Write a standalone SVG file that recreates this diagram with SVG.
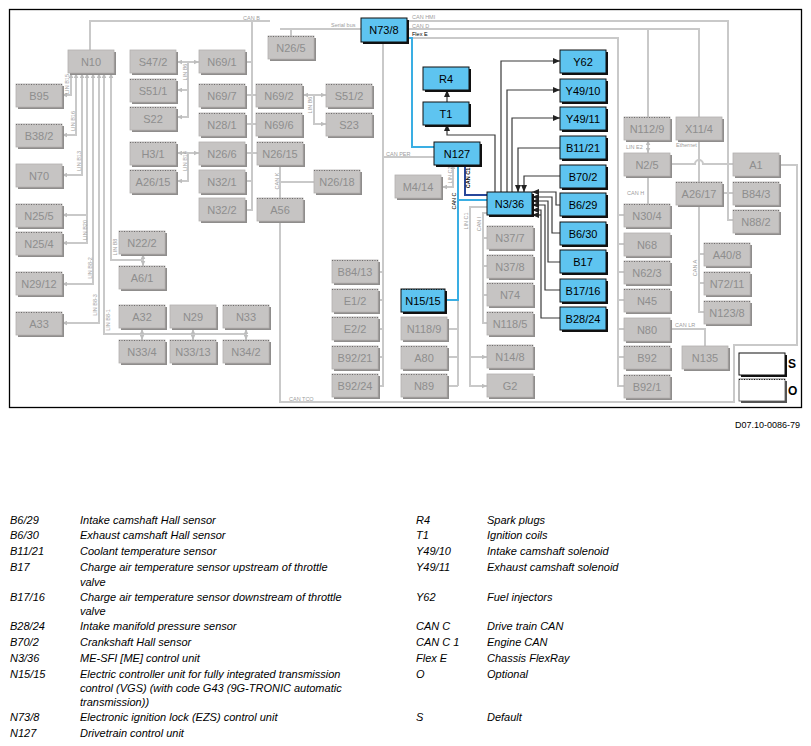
<svg xmlns="http://www.w3.org/2000/svg" width="811" height="746" viewBox="0 0 811 746">
<style>
.sh{fill:#8f8d8c}
.bx{fill:#c6c4c3;stroke:#b3b1b0;stroke-width:.8}
.dot{fill:none;stroke:#6f6d6c;stroke-width:1;stroke-dasharray:1 1.5}
.gt{font-family:"Liberation Sans",Arial,sans-serif;font-size:11px;fill:#8e8e8e;text-anchor:middle}
.bsh{fill:#111}
.bbx{fill:#5ec4f0;stroke:#111;stroke-width:1}
.bt{font-family:"Liberation Sans",Arial,sans-serif;font-size:11px;fill:#000;text-anchor:middle}
.w{fill:none;stroke:#c9c9c9;stroke-width:2}
.k{fill:none;stroke:#3a3a3a;stroke-width:1.2}
.cy{fill:none;stroke:#3aaee3;stroke-width:2}
.nv{fill:none;stroke:#27479b;stroke-width:2}
.lb{font-family:"Liberation Sans",Arial,sans-serif;font-size:5.5px;fill:#9d9d9d}
.lk{font-family:"Liberation Sans",Arial,sans-serif;font-size:5.5px;fill:#000}
.lg{font-family:"Liberation Sans",Arial,sans-serif;font-style:italic;font-size:11px;fill:#000}
</style>
<defs>
<marker id="ga" viewBox="0 0 6 6" refX="6" refY="3" markerWidth="5" markerHeight="5" markerUnits="userSpaceOnUse" orient="auto-start-reverse"><path d="M0,0.3 L6,3 L0,5.7z" fill="#bdbdbd"/></marker>
<marker id="da" viewBox="0 0 7 6" refX="7" refY="3" markerWidth="7" markerHeight="6" markerUnits="userSpaceOnUse" orient="auto"><path d="M0,0 L7,3 L0,6z" fill="#222"/></marker>
</defs>
<rect x="0" y="0" width="811" height="746" fill="#fff"/>
<rect x="9.5" y="9.5" width="792" height="398" fill="none" stroke="#000" stroke-width="1.3"/>

<g id="connectors">
<!-- CAN B / serial bus -->
<path class="w" d="M90,50 V21 H270"/>
<path class="w" d="M280,29 H361 M291,29 V36"/>
<path class="w" d="M252,21 V210 H246 M246,62 H252 M246,181 H252"/>
<path class="w" d="M246,95 H256 M246,124 H256 M246,153 H257"/>
<!-- LIN from N10 -->
<path class="w" marker-start="url(#ga)" marker-end="url(#ga)" d="M71,73 V95 H62"/>
<path class="w" marker-start="url(#ga)" marker-end="url(#ga)" d="M76,73 V135 H62"/>
<path class="w" marker-start="url(#ga)" marker-end="url(#ga)" d="M82,73 V175 H62"/>
<path class="w" marker-start="url(#ga)" marker-end="url(#ga)" d="M87,73 V243 H62"/>
<path class="w" marker-end="url(#ga)" d="M87,215 H62"/>
<path class="w" marker-start="url(#ga)" marker-end="url(#ga)" d="M93,73 V284 H62"/>
<path class="w" marker-start="url(#ga)" marker-end="url(#ga)" d="M99,73 V323 H62"/>
<path class="w" marker-start="url(#ga)" d="M104,73 V334 H246"/>
<path class="w" marker-start="url(#ga)" d="M111,73 V260 H143"/>
<path class="w" marker-start="url(#ga)" marker-end="url(#ga)" d="M143,254 V266"/>
<path class="w" marker-start="url(#ga)" marker-end="url(#ga)" d="M142,329 V340"/>
<path class="w" marker-start="url(#ga)" marker-end="url(#ga)" d="M193,329 V340"/>
<path class="w" marker-start="url(#ga)" marker-end="url(#ga)" d="M246,329 V340"/>
<!-- LIN B6 / B14 -->
<path class="w" marker-start="url(#ga)" marker-end="url(#ga)" d="M177,62 H199"/>
<path class="w" marker-end="url(#ga)" d="M188,62 V117 H177"/>
<path class="w" marker-end="url(#ga)" d="M188,90 H177"/>
<path class="w" marker-start="url(#ga)" marker-end="url(#ga)" d="M177,153 H199"/>
<path class="w" marker-end="url(#ga)" d="M188,153 V181 H177"/>
<path class="w" marker-start="url(#ga)" marker-end="url(#ga)" d="M303,95 H326"/>
<path class="w" marker-end="url(#ga)" d="M314,95 V124 H326"/>
<!-- CAN K / CAN TCO loop -->
<path class="w" d="M280,165 V198 M280,182 H314"/>
<path class="w" d="M780,165 H797 V345 H734 V402 H280 V222"/>
<!-- from N73/8 down -->
<path class="w" d="M383,42 V386 H378 M378,272 H383 M378,300 H383 M378,329 H383 M378,357 H383 M383,157 H434"/>
<path class="w" marker-start="url(#ga)" marker-end="url(#ga)" d="M453,164 V187 H442"/>
<path class="w" marker-end="url(#ga)" d="M487,207 H470 V386 H487"/>
<path class="w" marker-end="url(#ga)" d="M470,357 H487"/>
<path class="w" d="M487,213 H483 V323 H487 M483,238 H487 M483,266 H487 M483,295 H487"/>
<path class="w" d="M447,329 H458 M447,357 H458 M447,386 H458 M458,300 V386"/>
<!-- right buses -->
<path class="w" d="M407,21 H728 V220 H733"/>
<path class="w" d="M407,29 H699 V117 M648,29 V117"/>
<path class="w" d="M407,38 H618 V386 H624 M618,215 H624 M618,244 H624 M618,272 H624 M618,300 H624 M618,329 H624 M618,357 H624"/>
<path class="w" marker-start="url(#ga)" marker-end="url(#ga)" d="M648,140 V153"/>
<path class="w" d="M699,140 V182"/>
<path class="w" d="M671,164 H695 a4,4 0 0 1 8,0 H733"/>
<path class="w" d="M648,176 V204 M722,193 H733"/>
<path class="w" d="M699,204 V312 H704 M699,254 H704 M699,283 H704"/>
<path class="w" d="M671,329 H705 V346"/>
<!-- coloured -->
<path class="cy" d="M407,38 H412 V147 H434"/>
<path class="cy" d="M458,164 V300 H446 M458,200 H487"/>
<path class="nv" d="M465,164 V195 H487"/>
<!-- dark -->
<path class="k" marker-end="url(#da)" d="M447,102 V90"/>
<path class="k" marker-end="url(#da)" d="M495,192 V135 H447 V124"/>
<path class="k" marker-end="url(#da)" d="M501,192 V61 H560"/>
<path class="k" marker-end="url(#da)" d="M507,192 V90 H560"/>
<path class="k" marker-end="url(#da)" d="M512,192 V118 H560"/>
<path class="k" marker-end="url(#da)" d="M560,148 H518 V192"/>
<path class="k" marker-end="url(#da)" d="M560,176 H524 V192"/>
<path class="k" marker-end="url(#da)" d="M560,205 H556 V192 H532"/>
<path class="k" marker-end="url(#da)" d="M560,233 H552 V197 H532"/>
<path class="k" marker-end="url(#da)" d="M560,262 H548 V201 H532"/>
<path class="k" marker-end="url(#da)" d="M560,290 H545 V205 H532"/>
<path class="k" marker-end="url(#da)" d="M560,318 H541 V210 H532"/>
<path class="k" marker-end="url(#da)" d="M541,215 H532"/>
</g>

<g id="labels">
<text class="lb" x="243" y="19.5">CAN B</text>
<text class="lb" x="331" y="27">Serial bus</text>
<text class="lb" x="412" y="19">CAN HMI</text>
<text class="lb" x="412" y="27.5">CAN D</text>
<text class="lk" x="412" y="36">Flex E</text>
<text class="lb" x="386" y="155.5">CAN PER</text>
<text class="lb" x="626" y="149">LIN E2</text>
<text class="lb" x="676" y="147">Ethernet</text>
<text class="lb" x="627" y="195">CAN H</text>
<text class="lb" x="675" y="327">CAN LR</text>
<text class="lb" x="289" y="400.5">CAN TCO</text>
<text class="lb" transform="translate(279,181) rotate(-90)" text-anchor="middle">CAN K</text>
<text class="lb" transform="translate(697,268) rotate(-90)" text-anchor="middle">CAN A</text>
<text class="lb" transform="translate(69,84) rotate(-90)" text-anchor="middle">LIN B15</text>
<text class="lb" transform="translate(74.5,121) rotate(-90)" text-anchor="middle">LIN B16</text>
<text class="lb" transform="translate(81,161) rotate(-90)" text-anchor="middle">LIN B13</text>
<text class="lb" transform="translate(86.5,230) rotate(-90)" text-anchor="middle">LIN B20</text>
<text class="lb" transform="translate(91.5,268) rotate(-90)" text-anchor="middle">LIN B8-2</text>
<text class="lb" transform="translate(96.5,305) rotate(-90)" text-anchor="middle">LIN B8-3</text>
<text class="lb" transform="translate(110,320) rotate(-90)" text-anchor="middle">LIN B8-1</text>
<text class="lb" transform="translate(117,247) rotate(-90)" text-anchor="middle">LIN B8</text>
<text class="lb" transform="translate(187,72) rotate(-90)" text-anchor="middle">LIN B6</text>
<text class="lb" transform="translate(187,161) rotate(-90)" text-anchor="middle">LIN B14</text>
<text class="lb" transform="translate(312,105) rotate(-90)" text-anchor="middle">LIN B6</text>
<text class="lb" transform="translate(451.5,175) rotate(-90)" text-anchor="middle">LIN C2</text>
<text class="lk" transform="translate(469.5,178) rotate(-90)" text-anchor="middle" font-weight="bold">CAN C1</text>
<text class="lk" transform="translate(456,201) rotate(-90)" text-anchor="middle">CAN C</text>
<text class="lb" transform="translate(467.5,221) rotate(-90)" text-anchor="middle">LIN C1</text>
<text class="lb" transform="translate(480.5,224) rotate(-90)" text-anchor="middle">CAN I</text>
</g>

<!-- gray nodes -->
<g id="N10"><rect class="sh" x="70" y="52" width="46" height="23"/><rect class="bx" x="68" y="50" width="46" height="23"/><text class="gt" x="91" y="65.5">N10</text></g>
<g id="B95"><rect class="sh" x="18" y="86" width="46" height="23"/><rect class="bx" x="16" y="84" width="46" height="23"/><path class="dot" d="M16,84.5h46"/><text class="gt" x="39" y="99.5">B95</text></g>
<g id="B38-2"><rect class="sh" x="18" y="126" width="46" height="23"/><rect class="bx" x="16" y="124" width="46" height="23"/><path class="dot" d="M16,124.5h46"/><text class="gt" x="39" y="139.5">B38/2</text></g>
<g id="N70"><rect class="sh" x="18" y="166" width="46" height="23"/><rect class="bx" x="16" y="164" width="46" height="23"/><text class="gt" x="39" y="179.5">N70</text></g>
<g id="N25-5"><rect class="sh" x="18" y="206" width="46" height="23"/><rect class="bx" x="16" y="204" width="46" height="23"/><path class="dot" d="M16,204.5h46"/><text class="gt" x="39" y="219.5">N25/5</text></g>
<g id="N25-4"><rect class="sh" x="18" y="234" width="46" height="23"/><rect class="bx" x="16" y="232" width="46" height="23"/><path class="dot" d="M16,232.5h46"/><text class="gt" x="39" y="247.5">N25/4</text></g>
<g id="N29-12"><rect class="sh" x="18" y="274" width="46" height="23"/><rect class="bx" x="16" y="272" width="46" height="23"/><path class="dot" d="M16,272.5h46"/><text class="gt" x="39" y="287.5">N29/12</text></g>
<g id="A33"><rect class="sh" x="18" y="314" width="46" height="23"/><rect class="bx" x="16" y="312" width="46" height="23"/><path class="dot" d="M16,312.5h46"/><text class="gt" x="39" y="327.5">A33</text></g>
<g id="S47-2"><rect class="sh" x="132" y="52" width="46" height="23"/><rect class="bx" x="130" y="50" width="46" height="23"/><text class="gt" x="153" y="65.5">S47/2</text></g>
<g id="S51-1"><rect class="sh" x="132" y="81" width="46" height="23"/><rect class="bx" x="130" y="79" width="46" height="23"/><path class="dot" d="M130,79.5h46"/><text class="gt" x="153" y="94.5">S51/1</text></g>
<g id="S22"><rect class="sh" x="132" y="109" width="46" height="23"/><rect class="bx" x="130" y="107" width="46" height="23"/><path class="dot" d="M130,107.5h46"/><text class="gt" x="153" y="122.5">S22</text></g>
<g id="H3-1"><rect class="sh" x="132" y="144" width="46" height="23"/><rect class="bx" x="130" y="142" width="46" height="23"/><path class="dot" d="M130,142.5h46"/><text class="gt" x="153" y="157.5">H3/1</text></g>
<g id="A26-15"><rect class="sh" x="132" y="172" width="46" height="23"/><rect class="bx" x="130" y="170" width="46" height="23"/><path class="dot" d="M130,170.5h46"/><text class="gt" x="153" y="185.5">A26/15</text></g>
<g id="N69-1"><rect class="sh" x="201" y="52" width="46" height="23"/><rect class="bx" x="199" y="50" width="46" height="23"/><text class="gt" x="222" y="65.5">N69/1</text></g>
<g id="N69-7"><rect class="sh" x="201" y="86" width="46" height="23"/><rect class="bx" x="199" y="84" width="46" height="23"/><path class="dot" d="M199,84.5h46"/><text class="gt" x="222" y="99.5">N69/7</text></g>
<g id="N28-1"><rect class="sh" x="201" y="115" width="46" height="23"/><rect class="bx" x="199" y="113" width="46" height="23"/><path class="dot" d="M199,113.5h46"/><text class="gt" x="222" y="128.5">N28/1</text></g>
<g id="N26-6"><rect class="sh" x="201" y="144" width="46" height="23"/><rect class="bx" x="199" y="142" width="46" height="23"/><text class="gt" x="222" y="157.5">N26/6</text></g>
<g id="N32-1"><rect class="sh" x="201" y="172" width="46" height="23"/><rect class="bx" x="199" y="170" width="46" height="23"/><text class="gt" x="222" y="185.5">N32/1</text></g>
<g id="N32-2"><rect class="sh" x="201" y="200" width="46" height="23"/><rect class="bx" x="199" y="198" width="46" height="23"/><text class="gt" x="222" y="213.5">N32/2</text></g>
<g id="N22-2"><rect class="sh" x="121" y="233" width="46" height="23"/><rect class="bx" x="119" y="231" width="46" height="23"/><path class="dot" d="M119,231.5h46"/><text class="gt" x="142" y="246.5">N22/2</text></g>
<g id="A6-1"><rect class="sh" x="121" y="268" width="46" height="23"/><rect class="bx" x="119" y="266" width="46" height="23"/><path class="dot" d="M119,266.5h46"/><text class="gt" x="142" y="281.5">A6/1</text></g>
<g id="A32"><rect class="sh" x="121" y="307" width="46" height="23"/><rect class="bx" x="119" y="305" width="46" height="23"/><path class="dot" d="M119,305.5h46"/><text class="gt" x="142" y="320.5">A32</text></g>
<g id="N29"><rect class="sh" x="172" y="307" width="46" height="23"/><rect class="bx" x="170" y="305" width="46" height="23"/><text class="gt" x="193" y="320.5">N29</text></g>
<g id="N33"><rect class="sh" x="225" y="307" width="46" height="23"/><rect class="bx" x="223" y="305" width="46" height="23"/><path class="dot" d="M223,305.5h46"/><text class="gt" x="246" y="320.5">N33</text></g>
<g id="N33-4"><rect class="sh" x="121" y="342" width="46" height="23"/><rect class="bx" x="119" y="340" width="46" height="23"/><path class="dot" d="M119,340.5h46"/><text class="gt" x="142" y="355.5">N33/4</text></g>
<g id="N33-13"><rect class="sh" x="172" y="342" width="46" height="23"/><rect class="bx" x="170" y="340" width="46" height="23"/><path class="dot" d="M170,340.5h46"/><text class="gt" x="193" y="355.5">N33/13</text></g>
<g id="N34-2"><rect class="sh" x="225" y="342" width="46" height="23"/><rect class="bx" x="223" y="340" width="46" height="23"/><path class="dot" d="M223,340.5h46"/><text class="gt" x="246" y="355.5">N34/2</text></g>
<g id="N26-5"><rect class="sh" x="270" y="38" width="46" height="23"/><rect class="bx" x="268" y="36" width="46" height="23"/><path class="dot" d="M268,36.5h46"/><text class="gt" x="291" y="51.5">N26/5</text></g>
<g id="N69-2"><rect class="sh" x="258" y="86" width="46" height="23"/><rect class="bx" x="256" y="84" width="46" height="23"/><path class="dot" d="M256,84.5h46"/><text class="gt" x="279" y="99.5">N69/2</text></g>
<g id="N69-6"><rect class="sh" x="258" y="115" width="46" height="23"/><rect class="bx" x="256" y="113" width="46" height="23"/><path class="dot" d="M256,113.5h46"/><text class="gt" x="279" y="128.5">N69/6</text></g>
<g id="S51-2"><rect class="sh" x="328" y="86" width="46" height="23"/><rect class="bx" x="326" y="84" width="46" height="23"/><path class="dot" d="M326,84.5h46"/><text class="gt" x="349" y="99.5">S51/2</text></g>
<g id="S23"><rect class="sh" x="328" y="115" width="46" height="23"/><rect class="bx" x="326" y="113" width="46" height="23"/><path class="dot" d="M326,113.5h46"/><text class="gt" x="349" y="128.5">S23</text></g>
<g id="N26-15"><rect class="sh" x="259" y="144" width="46" height="23"/><rect class="bx" x="257" y="142" width="46" height="23"/><path class="dot" d="M257,142.5h46"/><text class="gt" x="280" y="157.5">N26/15</text></g>
<g id="N26-18"><rect class="sh" x="316" y="172" width="46" height="23"/><rect class="bx" x="314" y="170" width="46" height="23"/><path class="dot" d="M314,170.5h46"/><text class="gt" x="337" y="185.5">N26/18</text></g>
<g id="A56"><rect class="sh" x="259" y="200" width="46" height="23"/><rect class="bx" x="257" y="198" width="46" height="23"/><path class="dot" d="M257,198.5h46"/><text class="gt" x="280" y="213.5">A56</text></g>
<g id="B84-13"><rect class="sh" x="334" y="262" width="46" height="23"/><rect class="bx" x="332" y="260" width="46" height="23"/><path class="dot" d="M332,260.5h46"/><text class="gt" x="355" y="275.5">B84/13</text></g>
<g id="E1-2"><rect class="sh" x="334" y="291" width="46" height="23"/><rect class="bx" x="332" y="289" width="46" height="23"/><path class="dot" d="M332,289.5h46"/><text class="gt" x="355" y="304.5">E1/2</text></g>
<g id="E2-2"><rect class="sh" x="334" y="319" width="46" height="23"/><rect class="bx" x="332" y="317" width="46" height="23"/><path class="dot" d="M332,317.5h46"/><text class="gt" x="355" y="332.5">E2/2</text></g>
<g id="B92-21"><rect class="sh" x="334" y="348" width="46" height="23"/><rect class="bx" x="332" y="346" width="46" height="23"/><path class="dot" d="M332,346.5h46"/><text class="gt" x="355" y="361.5">B92/21</text></g>
<g id="B92-24"><rect class="sh" x="334" y="376" width="46" height="23"/><rect class="bx" x="332" y="374" width="46" height="23"/><path class="dot" d="M332,374.5h46"/><text class="gt" x="355" y="389.5">B92/24</text></g>
<g id="M4-14"><rect class="sh" x="397" y="177" width="46" height="23"/><rect class="bx" x="395" y="175" width="46" height="23"/><text class="gt" x="418" y="190.5">M4/14</text></g>
<g id="N118-9"><rect class="sh" x="403" y="319" width="46" height="23"/><rect class="bx" x="401" y="317" width="46" height="23"/><text class="gt" x="424" y="332.5">N118/9</text></g>
<g id="A80"><rect class="sh" x="403" y="348" width="46" height="23"/><rect class="bx" x="401" y="346" width="46" height="23"/><path class="dot" d="M401,346.5h46"/><text class="gt" x="424" y="361.5">A80</text></g>
<g id="N89"><rect class="sh" x="403" y="376" width="46" height="23"/><rect class="bx" x="401" y="374" width="46" height="23"/><path class="dot" d="M401,374.5h46"/><text class="gt" x="424" y="389.5">N89</text></g>
<g id="N37-7"><rect class="sh" x="489" y="228" width="46" height="23"/><rect class="bx" x="487" y="226" width="46" height="23"/><path class="dot" d="M487,226.5h46"/><text class="gt" x="510" y="241.5">N37/7</text></g>
<g id="N37-8"><rect class="sh" x="489" y="257" width="46" height="23"/><rect class="bx" x="487" y="255" width="46" height="23"/><path class="dot" d="M487,255.5h46"/><text class="gt" x="510" y="270.5">N37/8</text></g>
<g id="N74"><rect class="sh" x="489" y="285" width="46" height="23"/><rect class="bx" x="487" y="283" width="46" height="23"/><path class="dot" d="M487,283.5h46"/><text class="gt" x="510" y="298.5">N74</text></g>
<g id="N118-5"><rect class="sh" x="489" y="314" width="46" height="23"/><rect class="bx" x="487" y="312" width="46" height="23"/><path class="dot" d="M487,312.5h46"/><text class="gt" x="510" y="327.5">N118/5</text></g>
<g id="N14-8"><rect class="sh" x="489" y="347" width="46" height="23"/><rect class="bx" x="487" y="345" width="46" height="23"/><path class="dot" d="M487,345.5h46"/><text class="gt" x="510" y="360.5">N14/8</text></g>
<g id="G2"><rect class="sh" x="489" y="376" width="46" height="23"/><rect class="bx" x="487" y="374" width="46" height="23"/><text class="gt" x="510" y="389.5">G2</text></g>
<g id="N112-9"><rect class="sh" x="626" y="119" width="46" height="23"/><rect class="bx" x="624" y="117" width="46" height="23"/><path class="dot" d="M624,117.5h46"/><text class="gt" x="647" y="132.5">N112/9</text></g>
<g id="X11-4"><rect class="sh" x="678" y="119" width="46" height="23"/><rect class="bx" x="676" y="117" width="46" height="23"/><text class="gt" x="699" y="132.5">X11/4</text></g>
<g id="N2-5"><rect class="sh" x="626" y="155" width="46" height="23"/><rect class="bx" x="624" y="153" width="46" height="23"/><text class="gt" x="647" y="168.5">N2/5</text></g>
<g id="A1"><rect class="sh" x="735" y="155" width="46" height="23"/><rect class="bx" x="733" y="153" width="46" height="23"/><text class="gt" x="756" y="168.5">A1</text></g>
<g id="A26-17"><rect class="sh" x="678" y="184" width="46" height="23"/><rect class="bx" x="676" y="182" width="46" height="23"/><path class="dot" d="M676,182.5h46"/><text class="gt" x="699" y="197.5">A26/17</text></g>
<g id="B84-3"><rect class="sh" x="735" y="184" width="46" height="23"/><rect class="bx" x="733" y="182" width="46" height="23"/><path class="dot" d="M733,182.5h46"/><text class="gt" x="756" y="197.5">B84/3</text></g>
<g id="N88-2"><rect class="sh" x="735" y="212" width="46" height="23"/><rect class="bx" x="733" y="210" width="46" height="23"/><path class="dot" d="M733,210.5h46"/><text class="gt" x="756" y="225.5">N88/2</text></g>
<g id="N30-4"><rect class="sh" x="626" y="206" width="46" height="23"/><rect class="bx" x="624" y="204" width="46" height="23"/><path class="dot" d="M624,204.5h46"/><text class="gt" x="647" y="219.5">N30/4</text></g>
<g id="N68"><rect class="sh" x="626" y="235" width="46" height="23"/><rect class="bx" x="624" y="233" width="46" height="23"/><text class="gt" x="647" y="248.5">N68</text></g>
<g id="N62-3"><rect class="sh" x="626" y="263" width="46" height="23"/><rect class="bx" x="624" y="261" width="46" height="23"/><path class="dot" d="M624,261.5h46"/><text class="gt" x="647" y="276.5">N62/3</text></g>
<g id="N45"><rect class="sh" x="626" y="291" width="46" height="23"/><rect class="bx" x="624" y="289" width="46" height="23"/><path class="dot" d="M624,289.5h46"/><text class="gt" x="647" y="304.5">N45</text></g>
<g id="N80"><rect class="sh" x="626" y="320" width="46" height="23"/><rect class="bx" x="624" y="318" width="46" height="23"/><text class="gt" x="647" y="333.5">N80</text></g>
<g id="B92"><rect class="sh" x="626" y="348" width="46" height="23"/><rect class="bx" x="624" y="346" width="46" height="23"/><path class="dot" d="M624,346.5h46"/><text class="gt" x="647" y="361.5">B92</text></g>
<g id="B92-1"><rect class="sh" x="626" y="377" width="46" height="23"/><rect class="bx" x="624" y="375" width="46" height="23"/><path class="dot" d="M624,375.5h46"/><text class="gt" x="647" y="390.5">B92/1</text></g>
<g id="A40-8"><rect class="sh" x="706" y="245" width="46" height="23"/><rect class="bx" x="704" y="243" width="46" height="23"/><path class="dot" d="M704,243.5h46"/><text class="gt" x="727" y="258.5">A40/8</text></g>
<g id="N72-11"><rect class="sh" x="706" y="274" width="46" height="23"/><rect class="bx" x="704" y="272" width="46" height="23"/><path class="dot" d="M704,272.5h46"/><text class="gt" x="727" y="287.5">N72/11</text></g>
<g id="N123-8"><rect class="sh" x="706" y="303" width="46" height="23"/><rect class="bx" x="704" y="301" width="46" height="23"/><path class="dot" d="M704,301.5h46"/><text class="gt" x="727" y="316.5">N123/8</text></g>
<g id="N135"><rect class="sh" x="684" y="348" width="46" height="23"/><rect class="bx" x="682" y="346" width="46" height="23"/><text class="gt" x="705" y="361.5">N135</text></g>

<!-- blue nodes -->
<g id="N73-8"><rect class="bsh" x="363" y="20" width="46" height="24"/><rect class="bbx" x="361" y="18" width="46" height="24"/><text class="bt" x="384" y="34">N73/8</text></g>
<g id="R4"><rect class="bsh" x="425" y="69" width="46" height="23"/><rect class="bbx" x="423" y="67" width="46" height="23"/><text class="bt" x="446" y="82.5">R4</text></g>
<g id="T1"><rect class="bsh" x="425" y="104" width="46" height="23"/><rect class="bbx" x="423" y="102" width="46" height="23"/><text class="bt" x="446" y="117.5">T1</text></g>
<g id="N127"><rect class="bsh" x="436" y="144" width="46" height="23"/><rect class="bbx" x="434" y="142" width="46" height="23"/><text class="bt" x="457" y="157.5">N127</text></g>
<g id="N3-36"><rect class="bsh" x="489" y="194" width="45" height="23"/><rect class="bbx" x="487" y="192" width="45" height="23"/><text class="bt" x="509.5" y="207.5">N3/36</text></g>
<g id="N15-15"><rect class="bsh" x="403" y="291" width="44" height="23"/><rect class="bbx" x="401" y="289" width="44" height="23"/><path d="M401,289.5h44" stroke="#111" stroke-dasharray="1 1.5" fill="none"/><text class="bt" x="423" y="304.5">N15/15</text></g>
<g id="Y62"><rect class="bsh" x="562" y="52" width="46" height="23"/><rect class="bbx" x="560" y="50" width="46" height="23"/><text class="bt" x="583" y="65.5">Y62</text></g>
<g id="Y49-10"><rect class="bsh" x="562" y="81" width="46" height="23"/><rect class="bbx" x="560" y="79" width="46" height="23"/><text class="bt" x="583" y="94.5">Y49/10</text></g>
<g id="Y49-11"><rect class="bsh" x="562" y="109" width="46" height="23"/><rect class="bbx" x="560" y="107" width="46" height="23"/><text class="bt" x="583" y="122.5">Y49/11</text></g>
<g id="B11-21"><rect class="bsh" x="562" y="138" width="46" height="23"/><rect class="bbx" x="560" y="136" width="46" height="23"/><text class="bt" x="583" y="151.5">B11/21</text></g>
<g id="B70-2"><rect class="bsh" x="562" y="167" width="46" height="23"/><rect class="bbx" x="560" y="165" width="46" height="23"/><text class="bt" x="583" y="180.5">B70/2</text></g>
<g id="B6-29"><rect class="bsh" x="562" y="195" width="46" height="23"/><rect class="bbx" x="560" y="193" width="46" height="23"/><text class="bt" x="583" y="208.5">B6/29</text></g>
<g id="B6-30"><rect class="bsh" x="562" y="224" width="46" height="23"/><rect class="bbx" x="560" y="222" width="46" height="23"/><text class="bt" x="583" y="237.5">B6/30</text></g>
<g id="B17"><rect class="bsh" x="562" y="252" width="46" height="23"/><rect class="bbx" x="560" y="250" width="46" height="23"/><text class="bt" x="583" y="265.5">B17</text></g>
<g id="B17-16"><rect class="bsh" x="562" y="281" width="46" height="23"/><rect class="bbx" x="560" y="279" width="46" height="23"/><text class="bt" x="583" y="294.5">B17/16</text></g>
<g id="B28-24"><rect class="bsh" x="562" y="309" width="46" height="23"/><rect class="bbx" x="560" y="307" width="46" height="23"/><text class="bt" x="583" y="322.5">B28/24</text></g>

<!-- key -->
<g id="key-S"><rect x="741" y="355" width="46" height="22" fill="#111"/><rect x="739" y="353" width="46" height="22" fill="#fff" stroke="#111" stroke-width="1"/><text x="788" y="368" font-family="'Liberation Sans',Arial,sans-serif" font-size="12" font-weight="bold">S</text></g>
<g id="key-O"><rect x="741" y="381" width="46" height="22" fill="#555"/><rect x="739" y="379" width="46" height="22" fill="#fff" stroke="#555" stroke-width=".8"/><path d="M739,379.5h46" stroke="#111" stroke-dasharray="1 1.5" fill="none"/><text x="788" y="395" font-family="'Liberation Sans',Arial,sans-serif" font-size="12" font-weight="bold">O</text></g>

<text x="800" y="428" text-anchor="end" font-family="'Liberation Sans',Arial,sans-serif" font-size="9">D07.10-0086-79</text>

<g id="legend">
<text class="lg" x="10" y="524">B6/29</text><text class="lg" x="80" y="524">Intake camshaft Hall sensor</text>
<text class="lg" x="10" y="539">B6/30</text><text class="lg" x="80" y="539">Exhaust camshaft Hall sensor</text>
<text class="lg" x="10" y="555">B11/21</text><text class="lg" x="80" y="555">Coolant temperature sensor</text>
<text class="lg" x="10" y="571">B17</text><text class="lg" x="80" y="571">Charge air temperature sensor upstream of throttle</text>
<text class="lg" x="80" y="586">valve</text>
<text class="lg" x="10" y="601">B17/16</text><text class="lg" x="80" y="601">Charge air temperature sensor downstream of throttle</text>
<text class="lg" x="80" y="615">valve</text>
<text class="lg" x="10" y="630">B28/24</text><text class="lg" x="80" y="630">Intake manifold pressure sensor</text>
<text class="lg" x="10" y="646">B70/2</text><text class="lg" x="80" y="646">Crankshaft Hall sensor</text>
<text class="lg" x="10" y="662">N3/36</text><text class="lg" x="80" y="662">ME-SFI [ME] control unit</text>
<text class="lg" x="10" y="678">N15/15</text><text class="lg" x="80" y="678">Electric controller unit for fully integrated transmission</text>
<text class="lg" x="80" y="692">control (VGS) (with code G43 (9G-TRONIC automatic</text>
<text class="lg" x="80" y="706">transmission))</text>
<text class="lg" x="10" y="721">N73/8</text><text class="lg" x="80" y="721">Electronic ignition lock (EZS) control unit</text>
<text class="lg" x="10" y="737">N127</text><text class="lg" x="80" y="737">Drivetrain control unit</text>
<text class="lg" x="416" y="524">R4</text><text class="lg" x="487" y="524">Spark plugs</text>
<text class="lg" x="416" y="539">T1</text><text class="lg" x="487" y="539">Ignition coils</text>
<text class="lg" x="416" y="555">Y49/10</text><text class="lg" x="487" y="555">Intake camshaft solenoid</text>
<text class="lg" x="416" y="571">Y49/11</text><text class="lg" x="487" y="571">Exhaust camshaft solenoid</text>
<text class="lg" x="416" y="601">Y62</text><text class="lg" x="487" y="601">Fuel injectors</text>
<text class="lg" x="416" y="630">CAN C</text><text class="lg" x="487" y="630">Drive train CAN</text>
<text class="lg" x="416" y="646">CAN C 1</text><text class="lg" x="487" y="646">Engine CAN</text>
<text class="lg" x="416" y="662">Flex E</text><text class="lg" x="487" y="662">Chassis FlexRay</text>
<text class="lg" x="416" y="678">O</text><text class="lg" x="487" y="678">Optional</text>
<text class="lg" x="416" y="721">S</text><text class="lg" x="487" y="721">Default</text>
</g>
</svg>
